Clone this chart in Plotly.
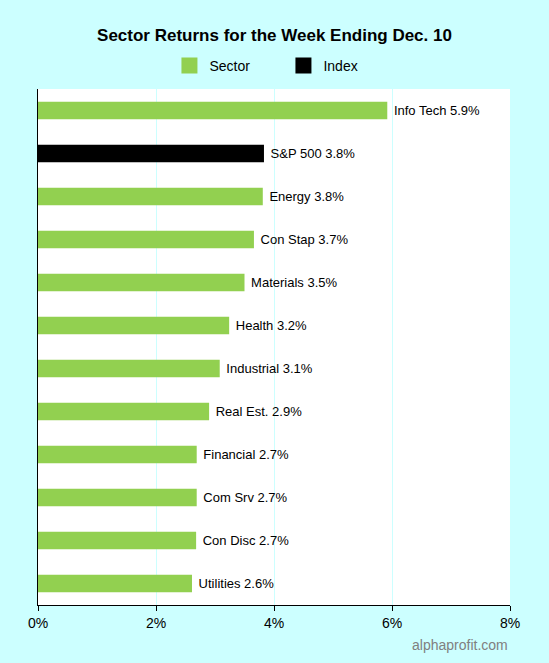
import plotly.graph_objects as go

# sector returns, top to bottom as drawn
sectors = ["Info Tech", "S&P 500", "Energy", "Con Stap", "Materials", "Health",
           "Industrial", "Real Est.", "Financial", "Com Srv", "Con Disc", "Utilities"]
returns = [5.92, 3.83, 3.81, 3.66, 3.50, 3.24, 3.08, 2.90, 2.69, 2.69, 2.68, 2.61]
is_index = [False, True, False, False, False, False, False, False, False, False, False, False]

x_ticks = [0, 2, 4, 6, 8]
x_ticklabels = ["0%", "2%", "4%", "6%", "8%"]

GREEN = "#92D050"
BG = "#CCFFFF"

labels = [f" {s} {r:.1f}%" for s, r in zip(sectors, returns)]

fig = go.Figure()
for name, color, want in [("Sector", GREEN, False), ("Index", "black", True)]:
    fig.add_trace(go.Bar(
        y=sectors,
        x=[r if idx == want else None for r, idx in zip(returns, is_index)],
        orientation="h",
        name=name,
        marker=dict(color=color, line=dict(width=0)),
        text=[l if idx == want else "" for l, idx in zip(labels, is_index)],
        textposition="outside",
        textfont=dict(size=13, color="black"),
        cliponaxis=False,
        width=0.41,
        showlegend=False,
    ))
    # legend entry with a bigger square than the bar icon
    fig.add_trace(go.Scatter(
        x=[None], y=[None], mode="markers", name=name,
        marker=dict(symbol="square", size=16, color=color),
    ))

fig.update_layout(
    width=549,
    height=663,
    barmode="overlay",
    paper_bgcolor=BG,
    plot_bgcolor="white",
    font=dict(family="Liberation Sans, Arial, sans-serif", color="black"),
    title=dict(
        text="<b>Sector Returns for the Week Ending Dec. 10</b>",
        x=0.5, xanchor="center", y=0.947, yanchor="middle",
        font=dict(size=17),
    ),
    legend=dict(
        orientation="h", x=0.52, xanchor="center", y=1.045, yanchor="middle",
        font=dict(size=14), bgcolor="rgba(0,0,0,0)", itemwidth=30,
        entrywidth=69, entrywidthmode="pixels",
        traceorder="normal",
    ),
    margin=dict(l=38, r=39, t=89, b=58),
    xaxis=dict(
        range=[0, 8],
        tickvals=x_ticks,
        ticktext=x_ticklabels,
        showgrid=True,
        gridcolor=BG,
        zeroline=False,
        showline=True,
        linecolor="black",
        linewidth=1,
        ticks="outside",
        tickcolor="black",
        ticklen=5,
        tickfont=dict(size=14),
        fixedrange=True,
    ),
    yaxis=dict(
        autorange="reversed",
        showticklabels=False,
        showgrid=False,
        showline=True,
        linecolor="black",
        linewidth=1,
        fixedrange=True,
    ),
    bargap=0.59,
    showlegend=True,
    annotations=[dict(
        text="alphaprofit.com", xref="paper", yref="paper",
        x=1.0, xanchor="right", y=-0.077, yanchor="middle",
        showarrow=False, font=dict(size=14, color="#808080"),
    )],
)

fig.write_html("out.html", config={"displayModeBar": False},
               post_script="document.body.style.margin='0';")
